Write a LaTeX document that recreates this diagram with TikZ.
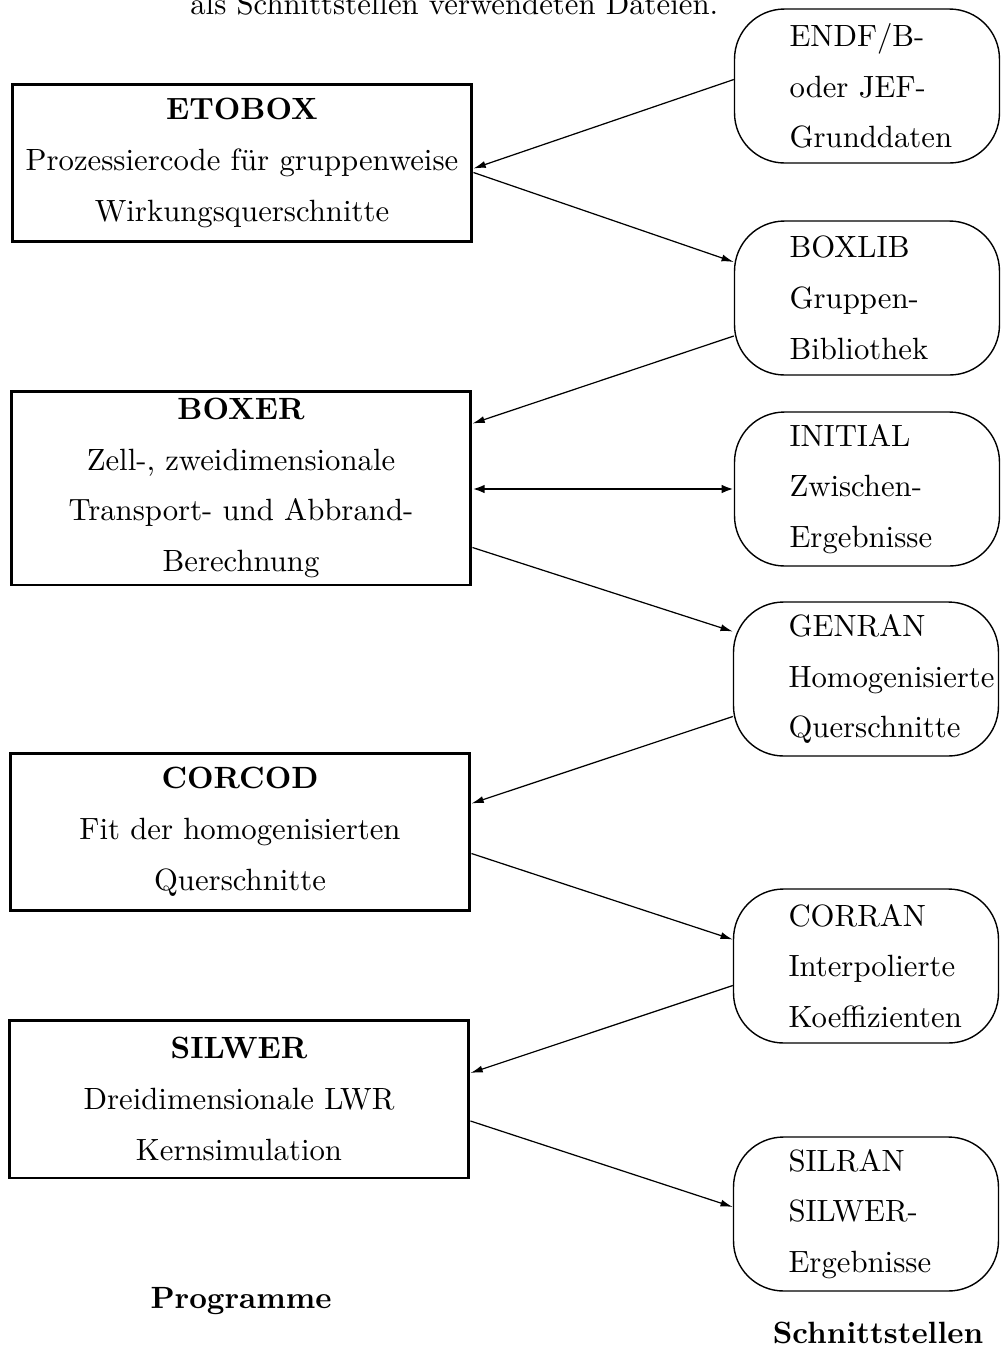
\documentclass[tikz,border=0pt]{standalone}
\usepackage{fontspec}
\setmainfont{lmroman10}[Extension=.otf, UprightFont=*-regular, BoldFont=*-bold,
  ItalicFont=*-italic, BoldItalicFont=*-bolditalic]
\usetikzlibrary{arrows.meta}

\begin{document}
\begin{tikzpicture}[x=0.02cm,y=-0.02cm]
\tikzset{every node/.style={font=\fontsize{17.5}{28.9}\selectfont}}
\tikzset{prgbox/.style={draw, line width=1.7pt, minimum width=9.2cm, text width=9cm,
  align=center, inner sep=0pt}}
\tikzset{filebox/.style={draw, rounded corners=1cm, line width=0.8pt, minimum height=3.08cm,
  text width=5.3cm, inner sep=0pt, align=left, execute at begin node={\leftskip=1.1cm}}}
\tikzset{arr/.style={line width=0.7pt, -{Latex[length=7pt,width=4pt]}}}
\tikzset{both/.style={line width=1.5pt, {Latex[length=7pt,width=5pt]}-{Latex[length=7pt,width=5pt]}}}

\useasboundingbox (0,0) rectangle (1002,1347);

\node[anchor=base west, inner sep=0pt] (caption) at (190,14) {als Schnittstellen verwendeten Dateien.};

% Programme
\node[prgbox, minimum height=3.15cm] (etobox) at (242,163) {\textbf{ETOBOX}\\Prozessiercode für gruppenweise\\Wirkungsquerschnitte};
\node[prgbox, minimum height=3.88cm] (boxer) at (241,488) {\textbf{BOXER}\\Zell-, zweidimensionale\\Transport- und Abbrand-\\Berechnung};
\node[prgbox, minimum height=3.14cm] (corcod) at (240,832) {\textbf{CORCOD}\\Fit der homogenisierten\\Querschnitte};
\node[prgbox, minimum height=3.16cm] (silwer) at (239,1099) {\textbf{SILWER}\\Dreidimensionale LWR\\Kernsimulation};

% Schnittstellen
\node[filebox] (endf) at (867,86) {ENDF/B-\\oder JEF-\\Grunddaten};
\node[filebox] (boxlib) at (867,298) {BOXLIB\\Gruppen-\\Bibliothek};
\node[filebox] (initial) at (867,489) {INITIAL\\Zwischen-\\Ergebnisse};
\node[filebox] (genran) at (866,679) {GENRAN\\Homogenisierte\\Querschnitte};
\node[filebox] (corran) at (866,966) {CORRAN\\Interpolierte\\Koeffizienten};
\node[filebox] (silran) at (866,1214) {SILRAN\\SILWER-\\Ergebnisse};

\node[anchor=base] (programme) at (241,1308) {\textbf{Programme}};
\node[anchor=base] (schnitt) at (878,1343) {\textbf{Schnittstellen}};

\draw[arr] ([yshift=0.13cm]endf.west) -- ([yshift=-0.11cm]etobox.east);
\draw[arr] ([yshift=-0.19cm]etobox.east) -- ([yshift=0.72cm]boxlib.west);
\draw[arr] ([yshift=-0.76cm]boxlib.west) -- ([yshift=1.29cm]boxer.east);
\draw[both] (boxer.east |- initial.west) -- (initial.west);
\draw[arr] ([yshift=-1.19cm]boxer.east) -- ([yshift=0.95cm]genran.west);
\draw[arr] ([yshift=-0.75cm]genran.west) -- ([yshift=0.57cm]corcod.east);
\draw[arr] ([yshift=-0.43cm]corcod.east) -- ([yshift=0.53cm]corran.west);
\draw[arr] ([yshift=-0.39cm]corran.west) -- ([yshift=0.52cm]silwer.east);
\draw[arr] ([yshift=-0.44cm]silwer.east) -- ([yshift=0.14cm]silran.west);

\end{tikzpicture}
\end{document}
